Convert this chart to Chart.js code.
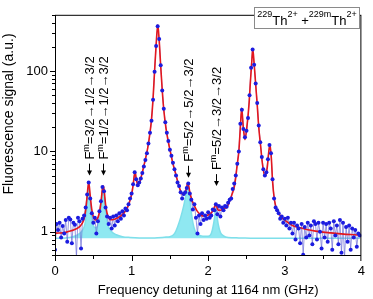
<!DOCTYPE html>
<html><head><meta charset="utf-8">
<script src="https://cdn.jsdelivr.net/npm/chart.js@4.4.1/dist/chart.umd.min.js"></script>
<style>html,body{margin:0;padding:0;background:#fff}#wrap{width:373px;height:299px}</style>
</head><body><div id="wrap"><canvas id="c" width="373" height="299"></canvas></div>
<script>
// ---- measured data (GHz, a.u.) ----
const detuning = [0,0.02,0.04,0.06,0.08,0.1,0.12,0.14,0.16,0.18,
0.2,0.22,0.24,0.26,0.28,0.3,0.32,0.34,0.36,0.38,
0.4,0.42,0.44,0.46,0.48,0.5,0.52,0.54,0.56,0.58,
0.6,0.62,0.64,0.66,0.68,0.7,0.72,0.74,0.76,0.78,
0.8,0.82,0.84,0.86,0.88,0.9,0.92,0.94,0.96,0.98,
1,1.02,1.04,1.06,1.08,1.1,1.12,1.14,1.16,1.18,
1.2,1.22,1.24,1.26,1.28,1.3,1.32,1.34,1.36,1.38,
1.4,1.42,1.44,1.46,1.48,1.5,1.52,1.54,1.56,1.58,
1.6,1.62,1.64,1.66,1.68,1.7,1.72,1.74,1.76,1.78,
1.8,1.82,1.84,1.86,1.88,1.9,1.92,1.94,1.96,1.98,
2,2.02,2.04,2.06,2.08,2.1,2.12,2.14,2.16,2.18,
2.2,2.22,2.24,2.26,2.28,2.3,2.32,2.34,2.36,2.38,
2.4,2.42,2.44,2.46,2.48,2.5,2.52,2.54,2.56,2.58,
2.6,2.62,2.64,2.66,2.68,2.7,2.72,2.74,2.76,2.78,
2.8,2.82,2.84,2.86,2.88,2.9,2.92,2.94,2.96,2.98,
3,3.02,3.04,3.06,3.08,3.1,3.12,3.14,3.16,3.18,
3.2,3.22,3.24,3.26,3.28,3.3,3.32,3.34,3.36,3.38,
3.4,3.42,3.44,3.46,3.48,3.5,3.52,3.54,3.56,3.58,
3.6,3.62,3.64,3.66,3.68,3.7,3.72,3.74,3.76,3.78,
3.8,3.82,3.84,3.86,3.88,3.9,3.92,3.94,3.96,3.98];
const signal = [0.60,1.25,1.05,1.30,0.85,1.18,0.95,1.40,0.75,1.50,
1.42,0.72,1.30,1.22,0.48,1.50,1.35,0.62,1.45,1.60,
2.0,2.9,4.1,2.6,1.7,1.3,1.5,0.95,1.35,1.8,
2.4,3.6,3.2,2.0,1.55,1.25,1.5,1.1,1.55,1.2,
1.6,1.35,1.7,1.45,1.8,1.6,1.95,1.85,2.2,2.6,
3.0,3.9,5.5,4.5,3.8,4.1,4.6,5.4,6.5,7.8,
9.5,12.5,17,24,44,98,205,360,250,118,
57,34,23,17,13.5,10.5,8.8,7.2,6.0,5.0,
4.1,3.7,3.1,2.6,2.95,3.1,3.5,4.0,3.0,2.5,
1.9,2.2,1.5,0.95,1.6,1.25,1.7,1.4,1.6,1.45,
1.75,1.5,1.6,1.9,1.85,2.2,1.65,2.1,1.55,2.0,
1.85,2.1,2.05,2.3,2.5,2.6,3.4,4.0,5.0,7.0,
10,22,33,19,15,18,26,50,110,185,
120,70,40,21,13,8.5,6.0,5.0,5.5,8.0,
12,9.5,4.5,2.6,2.0,1.85,1.7,1.45,1.55,1.3,
1.45,1.2,1.5,1.1,1.3,0.95,1.3,0.8,1.2,1.1,
0.72,1.25,0.52,1.15,0.85,1.3,0.9,1.2,0.7,1.35,
1.25,0.8,1.3,1.0,0.62,1.3,0.85,1.25,0.75,1.3,
1.1,0.6,1.35,0.9,1.2,0.7,1.4,0.55,1.3,0.48,
1.15,0.75,1.2,0.6,1.1,0.85,1.05,0.65,0.95,0.9];

// ---- fit curve ----
const fitDetuning = [0,0.05,0.1,0.15,0.2,0.25,0.3,0.33,0.36,0.38,
0.4,0.42,0.44,0.46,0.48,0.5,0.53,0.56,0.58,0.6,
0.62,0.63,0.64,0.66,0.68,0.7,0.72,0.75,0.8,0.85,
0.9,0.94,0.97,1.0,1.02,1.045,1.06,1.08,1.1,1.12,
1.15,1.18,1.21,1.24,1.26,1.28,1.3,1.32,1.342,1.36,
1.38,1.4,1.42,1.45,1.48,1.51,1.54,1.57,1.6,1.63,
1.66,1.69,1.71,1.735,1.76,1.79,1.82,1.85,1.88,1.92,
1.96,2.0,2.04,2.07,2.1,2.13,2.16,2.2,2.24,2.28,
2.31,2.34,2.36,2.38,2.40,2.42,2.437,2.458,2.48,2.505,
2.535,2.55,2.57,2.581,2.6,2.62,2.64,2.66,2.685,2.705,
2.74,2.77,2.79,2.807,2.825,2.84,2.865,2.9,2.95,3.0,
3.1,3.2,3.3,3.4,3.5,3.6,3.7,3.8,3.9,3.98];
const fitSignal = [0.96,0.965,0.97,0.99,1.02,1.06,1.12,1.18,1.3,1.45,
1.85,2.8,4.2,2.8,1.9,1.55,1.4,1.5,1.75,2.3,
3.5,3.7,3.4,2.2,1.7,1.5,1.42,1.41,1.46,1.55,
1.72,1.95,2.3,2.9,3.8,5.6,4.6,3.9,4.0,4.6,
6.0,8.0,11,17,25,45,100,210,375,240,
115,58,33,19,13,9.5,7.0,5.5,4.3,3.4,
2.95,2.9,3.3,4.1,3.1,2.45,2.1,1.85,1.7,1.58,
1.58,1.62,1.72,1.9,2.2,1.85,1.85,1.95,2.0,2.4,
2.9,3.6,4.8,7.0,10,20,34.5,20,14,20,
41,71,134,190,123,68,38,20,11.6,7.4,
4.9,6.2,9.7,12.2,8.1,4.3,2.5,1.85,1.55,1.4,
1.2,1.12,1.06,1.02,0.99,0.97,0.95,0.93,0.92,0.91];

// ---- isomer hyperfine components (shaded) ----
const componentDetuning = [0,0.14,0.22,0.28,0.32,0.36,0.38,0.40,0.42,0.44,
0.46,0.48,0.50,0.53,0.56,0.58,0.60,0.62,0.63,0.64,
0.66,0.68,0.70,0.74,0.80,0.88,0.98,1.10,1.30,1.45,
1.50,1.56,1.60,1.64,1.68,1.71,1.735,1.755,1.775,1.80,
1.83,1.87,1.93,2.00,2.04,2.07,2.09,2.10,2.11,2.13,
2.16,2.20,2.26,2.40,2.60,3.98];
const componentSignal = [0.83,0.84,0.86,0.9,0.95,1.05,1.15,1.4,2.2,3.6,
2.2,1.45,1.2,1.12,1.2,1.4,1.9,2.9,3.3,2.8,
1.75,1.35,1.15,1.0,0.92,0.87,0.85,0.84,0.84,0.86,
0.87,0.95,1.15,1.5,2.1,2.9,3.7,2.8,1.9,1.3,
1.02,0.92,0.88,0.88,0.95,1.25,1.7,1.95,1.7,1.25,
0.98,0.89,0.85,0.84,0.83,0.83];
const componentBaseline = 0.83;

// ---- axes ----
const xTicks = [0,1,2,3,4];
const xMinorTicks = [0.5,1.5,2.5,3.5];
const yTicks = [1,10,100];
const yMinorTicks = [0.5,0.6,0.7,0.8,0.9,2,3,4,5,6,7,8,9,20,30,40,50,60,70,80,90,200,300,400,500];
const xTitle = 'Frequency detuning at 1164 nm (GHz)';
const yTitle = 'Fluorescence signal (a.u.)';

// ---- transition markers ----
const markerDetuning = [0.44,0.63,1.735,2.10];
const markerTipSignal = [5.0,5.0,4.7,3.7];
const markerLabels = ['=3/2\u21921/2\u21923/2','=1/2\u21921/2\u21923/2','=5/2\u21925/2\u21923/2','=5/2\u21923/2\u21923/2'];

const FONT = '"Liberation Sans", Arial, Helvetica, sans-serif';
Chart.defaults.font.family = FONT;
Chart.defaults.font.size = 13;
Chart.defaults.color = '#000';

const toXY = (xs, ys) => xs.map((x, i) => ({x: x, y: ys[i]}));

function drawRuns(ctx, runs, x, y) {
  let cx = x;
  runs.forEach(r => {
    ctx.font = r.size + 'px ' + FONT;
    ctx.fillText(r.t, cx, y + r.dy);
    cx += ctx.measureText(r.t).width;
  });
  return cx - x;
}
function runsWidth(ctx, runs) {
  let w = 0;
  runs.forEach(r => { ctx.font = r.size + 'px ' + FONT; w += ctx.measureText(r.t).width; });
  return w;
}

const deco = {
  id: 'deco',
  afterDatasetsDraw(chart) {
    const {ctx, chartArea: a, scales: {x, y}} = chart;
    ctx.save();
    ctx.strokeStyle = '#000';
    ctx.lineWidth = 1;
    ctx.strokeRect(a.left + 0.5, a.top + 0.5, a.right - a.left - 1, a.bottom - a.top - 1);
    ctx.beginPath();
    const xp = v => Math.min(Math.round(x.getPixelForValue(v)), a.right - 1) + 0.5;
    const yp = v => Math.min(Math.round(y.getPixelForValue(v)), a.bottom - 1) + 0.5;
    xTicks.forEach(v => { const p = xp(v); ctx.moveTo(p, a.bottom); ctx.lineTo(p, a.bottom + 5); });
    xMinorTicks.forEach(v => { const p = xp(v); ctx.moveTo(p, a.bottom); ctx.lineTo(p, a.bottom + 3); });
    yTicks.forEach(v => { const p = yp(v); ctx.moveTo(a.left - 5, p); ctx.lineTo(a.left, p); });
    yMinorTicks.forEach(v => { const p = yp(v); ctx.moveTo(a.left - 3, p); ctx.lineTo(a.left, p); });
    ctx.stroke();

    // markers: arrows + rotated labels
    ctx.fillStyle = '#000';
    markerDetuning.forEach((d, i) => {
      const px = Math.round(x.getPixelForValue(d)) + 0.5;
      const tip = y.getPixelForValue(markerTipSignal[i]);
      ctx.beginPath();
      ctx.moveTo(px, tip - 12); ctx.lineTo(px, tip - 4);
      ctx.stroke();
      ctx.beginPath();
      ctx.moveTo(px - 2.5, tip - 5); ctx.lineTo(px + 2.5, tip - 5); ctx.lineTo(px, tip);
      ctx.closePath(); ctx.fill();
      ctx.save();
      ctx.translate(px + 4.5, tip - 16);
      ctx.rotate(-Math.PI / 2);
      ctx.textAlign = 'left'; ctx.textBaseline = 'alphabetic';
      drawRuns(ctx, [{t: 'F', size: 13, dy: 0}, {t: 'm', size: 9, dy: -5.5}, {t: markerLabels[i], size: 13, dy: 0}], 0, 0);
      ctx.restore();
    });

    // legend box
    const bx = 254.5, by = 7.5, bw = 105, bh = 21;
    ctx.fillStyle = '#fff';
    ctx.fillRect(bx, by, bw, bh);
    ctx.strokeStyle = '#8a8a8a';
    ctx.strokeRect(bx, by, bw, bh);
    ctx.fillStyle = '#000';
    ctx.textAlign = 'left'; ctx.textBaseline = 'alphabetic';
    const runs = [{t: '229', size: 9, dy: -8}, {t: 'Th', size: 13, dy: 0}, {t: '2+', size: 9, dy: -8},
      {t: ' +', size: 13, dy: 0}, {t: '229m', size: 9, dy: -8}, {t: 'Th', size: 13, dy: 0}, {t: '2+', size: 9, dy: -8}];
    const w = runsWidth(ctx, runs);
    drawRuns(ctx, runs, bx + (bw - w) / 2, 24.5);

    // axis titles
    ctx.font = '13px ' + FONT;
    ctx.textAlign = 'center'; ctx.textBaseline = 'alphabetic';
    ctx.fillText(xTitle, (a.left + a.right) / 2, 294);
    ctx.save();
    ctx.translate(13, 114);
    ctx.rotate(-Math.PI / 2);
    ctx.font = '14px ' + FONT;
    ctx.fillText(yTitle, 0, 0);
    ctx.restore();
    ctx.restore();
  }
};

new Chart(document.getElementById('c'), {
  type: 'line',
  data: {
    datasets: [
      {label: 'components', data: toXY(componentDetuning, componentSignal), borderColor: '#7edfea', backgroundColor: '#8fe8f1',
       borderWidth: 1.5, pointRadius: 0, fill: {value: componentBaseline}, cubicInterpolationMode: 'monotone', order: 4},
      {label: 'data line', data: toXY(detuning, signal), borderColor: 'rgba(110,110,215,0.7)', borderWidth: 1,
       pointRadius: 0, fill: false, order: 3},
      {label: 'fit', data: toXY(fitDetuning, fitSignal), borderColor: '#e3171e', borderWidth: 1.6, pointRadius: 0,
       fill: false, cubicInterpolationMode: 'monotone', order: 2},
      {label: 'data', data: toXY(detuning, signal), showLine: false, pointRadius: 2, pointBackgroundColor: '#1c1ce0',
       pointBorderWidth: 0, order: 1}
    ]
  },
  options: {
    responsive: false, animation: false, devicePixelRatio: 1,
    layout: {padding: {top: 2, right: 5, left: 0, bottom: 0}},
    plugins: {legend: {display: false}, tooltip: {enabled: false}},
    scales: {
      x: {type: 'linear', min: 0, max: 4,
          afterBuildTicks: s => { s.ticks = xTicks.map(v => ({value: v})); },
          afterFit: s => { s.height = 43; },
          grid: {display: false, drawTicks: false}, border: {display: false},
          ticks: {padding: 8, maxRotation: 0, callback: v => String(v), font: {size: 13}}},
      y: {type: 'logarithmic', min: 0.5, max: 500,
          afterBuildTicks: s => { s.ticks = yTicks.map(v => ({value: v})); },
          afterFit: s => { s.width = 55; },
          grid: {display: false, drawTicks: false}, border: {display: false},
          ticks: {padding: 7, callback: v => String(v), font: {size: 13}}}
    }
  },
  plugins: [deco]
});
</script>
</body></html>
